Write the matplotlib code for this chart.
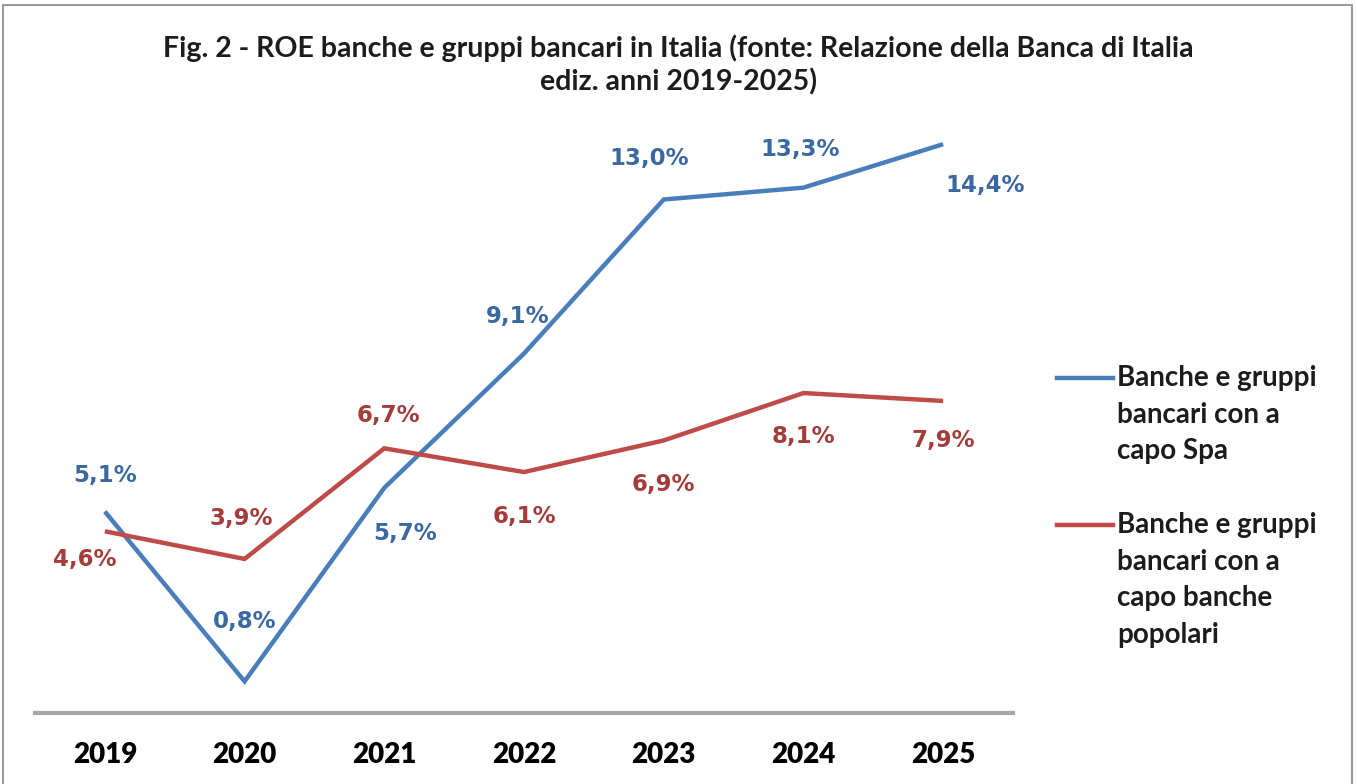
import matplotlib
matplotlib.use("Agg")
import matplotlib.pyplot as plt
from matplotlib.patches import Rectangle
from matplotlib.lines import Line2D

years = ["2019", "2020", "2021", "2022", "2023", "2024", "2025"]
spa = [5.1, 0.8, 5.7, 9.1, 13.0, 13.3, 14.4]
popolari = [4.6, 3.9, 6.7, 6.1, 6.9, 8.1, 7.9]
spa_labels = ["5,1%", "0,8%", "5,7%", "9,1%", "13,0%", "13,3%", "14,4%"]
pop_labels = ["4,6%", "3,9%", "6,7%", "6,1%", "6,9%", "8,1%", "7,9%"]
series_names = ["Banche e gruppi\nbancari con a\ncapo Spa",
                "Banche e gruppi\nbancari con a\ncapo banche\npopolari"]
title = "Fig. 2 - ROE banche e gruppi bancari in Italia (fonte: Relazione della Banca di Italia\nediz. anni 2019-2025)"

# label offsets in pixels (dx, dy)
spa_off = [(0, 36), (0, 60), (21, -46), (-6, 37), (-15, 41), (-3, 38), (42, -41)]
pop_off = [(-20, -28), (-3, 40), (4, 33), (0, -44), (0, -44), (0, -43), (0, -40)]

FONT = ["Lato", "DejaVu Sans"]
plt.rcParams["font.family"] = FONT

W, H = 1357, 784
fig = plt.figure(figsize=(W / 100, H / 100), dpi=100)
fig.patch.set_facecolor("white")

# frame
fig.patches.append(Rectangle((3 / W, -0.01), (1352 - 3) / W, (784 - 5) / H + 0.01,
                             transform=fig.transFigure, fill=False,
                             edgecolor="#9a9a9a", linewidth=1.5))

ax = fig.add_axes([35 / W, 1 - 713 / H, (1013 - 35) / W, (713 - 81) / H])
x = list(range(len(years)))
blue = "#4A7EBB"
red = "#BE4B48"
l1, = ax.plot(x, spa, color=blue, lw=3.2, solid_capstyle="butt", solid_joinstyle="miter")
l2, = ax.plot(x, popolari, color=red, lw=3.2, solid_capstyle="butt", solid_joinstyle="miter")

for xi, v, t, o in zip(x, spa, spa_labels, spa_off):
    ax.annotate(t, (xi, v), xytext=o, textcoords="offset pixels", ha="center", va="center",
                fontsize=16.5, fontweight="bold", color="#3A68A0", family="DejaVu Sans")
for xi, v, t, o in zip(x, popolari, pop_labels, pop_off):
    ax.annotate(t, (xi, v), xytext=o, textcoords="offset pixels", ha="center", va="center",
                fontsize=16.5, fontweight="bold", color="#A43D3A", family="DejaVu Sans")

ax.set_xlim(-0.5, len(years) - 0.5)
ax.set_ylim(0, 16)
ax.set_yticks([])
ax.set_xticks(x)
ax.set_xticklabels(years, fontsize=20, fontweight="heavy", color="black")
ax.tick_params(axis="x", length=0, pad=21)
for s in ["top", "right", "left"]:
    ax.spines[s].set_visible(False)
ax.spines["bottom"].set_color("#A6A6A6")
ax.spines["bottom"].set_linewidth(3)

fig.text(0.5, 1 - 65 / H, title, ha="center", va="center", fontsize=20.5,
         fontweight="bold", color="#1c1c1c", linespacing=1.32)

# legend drawn manually (handle aligned with first text line)
leg_y = [378, 525]
for line, name, yy in zip([l1, l2], series_names, leg_y):
    fig.add_artist(Line2D([1057 / W, 1113 / W], [1 - yy / H, 1 - yy / H],
                          transform=fig.transFigure, color=line.get_color(), lw=3.2))
    fig.text(1117 / W, 1 - (yy - 13) / H, name, ha="left", va="top", fontsize=20,
             fontweight="bold", color="#1c1c1c", linespacing=1.5)

fig.savefig("out.png", dpi=100)
